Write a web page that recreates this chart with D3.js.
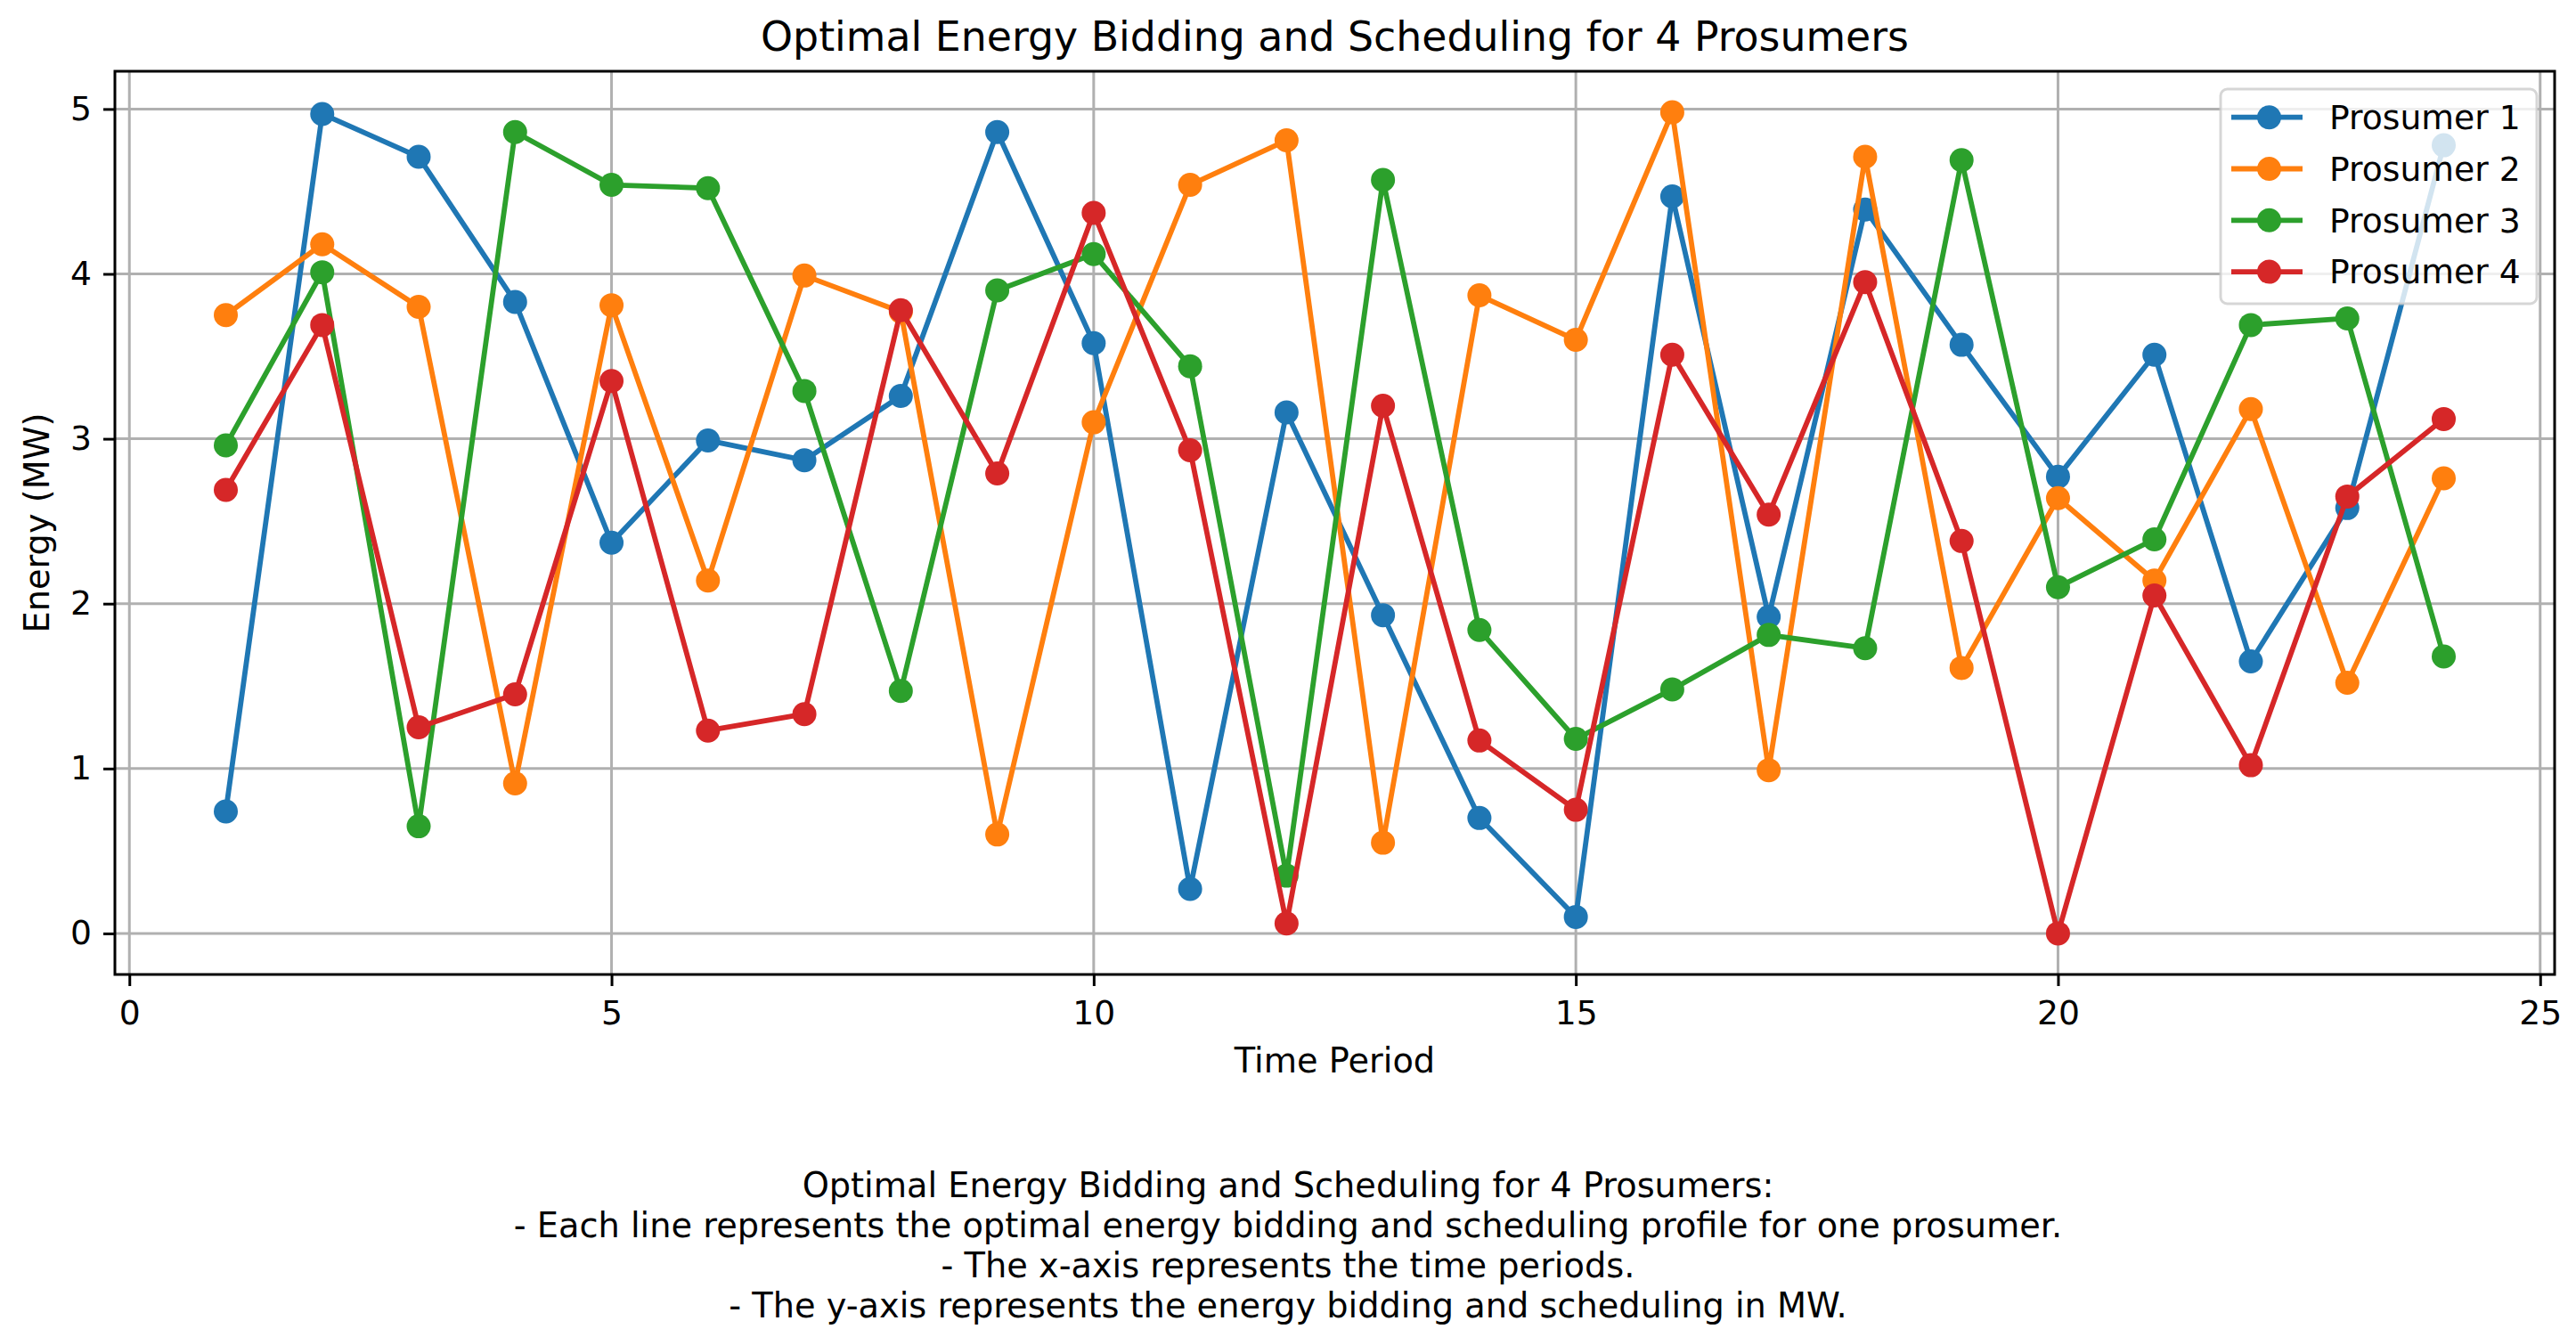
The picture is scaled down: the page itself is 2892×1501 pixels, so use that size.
<!DOCTYPE html>
<html>
<head>
<meta charset="utf-8">
<script src="https://cdn.jsdelivr.net/npm/d3@7"></script>
<style>
  body { margin: 0; background: #fff; }
  svg text { font-family: "DejaVu Sans", sans-serif; fill: #000; }
</style>
</head>
<body>
<div id="chart"></div>
<script>
const periods = d3.range(1, 25);
const prosumer1 = [0.74, 4.97, 4.71, 3.83, 2.37, 2.99, 2.87, 3.26, 4.86, 3.58, 0.27, 3.16,
    1.93, 0.70, 0.10, 4.47, 1.92, 4.39, 3.57, 2.77, 3.51, 1.65, 2.58, 4.78];
const prosumer2 = [3.75, 4.18, 3.80, 0.91, 3.81, 2.14, 3.99, 3.77, 0.60, 3.10, 4.54, 4.81,
    0.55, 3.87, 3.60, 4.98, 0.99, 4.71, 1.61, 2.64, 2.14, 3.18, 1.52, 2.76];
const prosumer3 = [2.96, 4.01, 0.65, 4.86, 4.54, 4.52, 3.29, 1.47, 3.90, 4.12, 3.44, 0.35,
    4.57, 1.84, 1.18, 1.48, 1.81, 1.73, 4.69, 2.10, 2.39, 3.69, 3.73, 1.68];
const prosumer4 = [2.69, 3.69, 1.25, 1.45, 3.35, 1.23, 1.33, 3.78, 2.79, 4.37, 2.93, 0.06,
    3.20, 1.17, 0.75, 3.51, 2.54, 3.95, 2.38, 0.00, 2.05, 1.02, 2.65, 3.12];
const seriesNames = ["Prosumer 1", "Prosumer 2", "Prosumer 3", "Prosumer 4"];
const seriesColors = ["#1f77b4", "#ff7f0e", "#2ca02c", "#d62728"];
const xTicks = [0, 5, 10, 15, 20, 25];
const yTicks = [0, 1, 2, 3, 4, 5];
const titleText = "Optimal Energy Bidding and Scheduling for 4 Prosumers";
const noteLines = [
    "Optimal Energy Bidding and Scheduling for 4 Prosumers:",
    "- Each line represents the optimal energy bidding and scheduling profile for one prosumer.",
    "- The x-axis represents the time periods.",
    "- The y-axis represents the energy bidding and scheduling in MW."
];

const width = 2892,
    height = 1501,
    axLeft = 129, axRight = 2868, axTop = 80, axBottom = 1094,
    fs = 37.7,
    fsLabel = 38.3,
    markerR = 13.5;

const allSeries = [prosumer1, prosumer2, prosumer3, prosumer4];
const yMax = d3.max(allSeries, (s) => d3.max(s)),
    yMin = d3.min(allSeries, (s) => d3.min(s)),
    yPad = (yMax - yMin) * 0.05,
    xPad = (d3.max(periods) - d3.min(periods)) * 0.05;

const x = d3.scaleLinear().
        domain([d3.min(periods) - xPad, d3.max(periods) + xPad]).
        range([axLeft, axRight]),
    y = d3.scaleLinear().
        domain([yMin - yPad, yMax + yPad]).
        range([axBottom, axTop]);

const svg = d3.select("#chart").append("svg").
    attr("width", width).
    attr("height", height).
    attr("viewBox", `0 0 ${width} ${height}`);

svg.append("rect").attr("width", width).attr("height", height).attr("fill", "#fff");

// grid
const grid = svg.append("g").attr("stroke", "#b0b0b0").attr("stroke-width", 3);
grid.selectAll(".gx").data(xTicks).enter().append("line").
    attr("x1", (d) => x(d)).attr("x2", (d) => x(d)).
    attr("y1", axTop).attr("y2", axBottom);
grid.selectAll(".gy").data(yTicks).enter().append("line").
    attr("y1", (d) => y(d)).attr("y2", (d) => y(d)).
    attr("x1", axLeft).attr("x2", axRight);

// series
const line = d3.line().x((d, i) => x(periods[i])).y((d) => y(d));
allSeries.forEach((s, k) => {
    const g = svg.append("g");
    g.append("path").
        datum(s).
        attr("d", line).
        attr("fill", "none").
        attr("stroke", seriesColors[k]).
        attr("stroke-width", 5.8).
        attr("stroke-linejoin", "round").
        attr("stroke-linecap", "square");
    g.selectAll("circle").data(s).enter().append("circle").
        attr("cx", (d, i) => x(periods[i])).
        attr("cy", (d) => y(d)).
        attr("r", markerR).
        attr("fill", seriesColors[k]);
});

// axes
const xAxis = svg.append("g").
    attr("transform", `translate(0,${axBottom})`).
    call(d3.axisBottom(x).tickValues(xTicks).tickSize(13).tickPadding(16).tickFormat(d3.format("d")));
const yAxis = svg.append("g").
    attr("transform", `translate(${axLeft},0)`).
    call(d3.axisLeft(y).tickValues(yTicks).tickSize(13).tickPadding(13).tickFormat(d3.format("d")));
[xAxis, yAxis].forEach((a) => {
    a.select(".domain").remove();
    a.selectAll("line").attr("stroke", "#000").attr("stroke-width", 3);
    a.selectAll("text").
        style("font-family", "DejaVu Sans").
        style("font-size", `${fs}px`).
        attr("fill", "#000");
});

// frame
svg.append("rect").
    attr("x", axLeft).attr("y", axTop).
    attr("width", axRight - axLeft).attr("height", axBottom - axTop).
    attr("fill", "none").attr("stroke", "#000").attr("stroke-width", 3);

// title and labels
svg.append("text").
    attr("x", (axLeft + axRight) / 2).attr("y", 57).
    attr("text-anchor", "middle").
    style("font-size", "45.8px").
    text(titleText);
svg.append("text").
    attr("x", (axLeft + axRight) / 2).attr("y", 1204).
    attr("text-anchor", "middle").
    style("font-size", `${fsLabel}px`).
    text("Time Period");
svg.append("text").
    attr("transform", `translate(55,${(axTop + axBottom) / 2}) rotate(-90)`).
    attr("text-anchor", "middle").
    style("font-size", `${fsLabel}px`).
    text("Energy (MW)");

// note below
svg.selectAll(".note").data(noteLines).enter().append("text").
    attr("class", "note").
    attr("x", width / 2).
    attr("y", (d, i) => 1344 + i * 45).
    attr("text-anchor", "middle").
    style("font-size", `${fsLabel}px`).
    text((d) => d);

// legend
const lgW = 355, lgH = 241, lgX = 2493, lgY = 100;
const legend = svg.append("g");
legend.append("rect").
    attr("x", lgX).attr("y", lgY).
    attr("width", lgW).attr("height", lgH).
    attr("rx", 7.5).
    attr("fill", "#fff").attr("fill-opacity", 0.8).
    attr("stroke", "#cccccc").attr("stroke-opacity", 0.8).attr("stroke-width", 3);
seriesNames.forEach((name, k) => {
    const cy = lgY + 31.7 + k * 57.8;
    legend.append("line").
        attr("x1", lgX + 12).attr("x2", lgX + 92).
        attr("y1", cy).attr("y2", cy).
        attr("stroke", seriesColors[k]).attr("stroke-width", 5.8);
    legend.append("circle").
        attr("cx", lgX + 54.5).attr("cy", cy).attr("r", markerR).
        attr("fill", seriesColors[k]);
    legend.append("text").
        attr("x", lgX + 122).attr("y", cy + 13.3).
        style("font-size", `${fs}px`).
        text(name);
});
</script>
</body>
</html>
